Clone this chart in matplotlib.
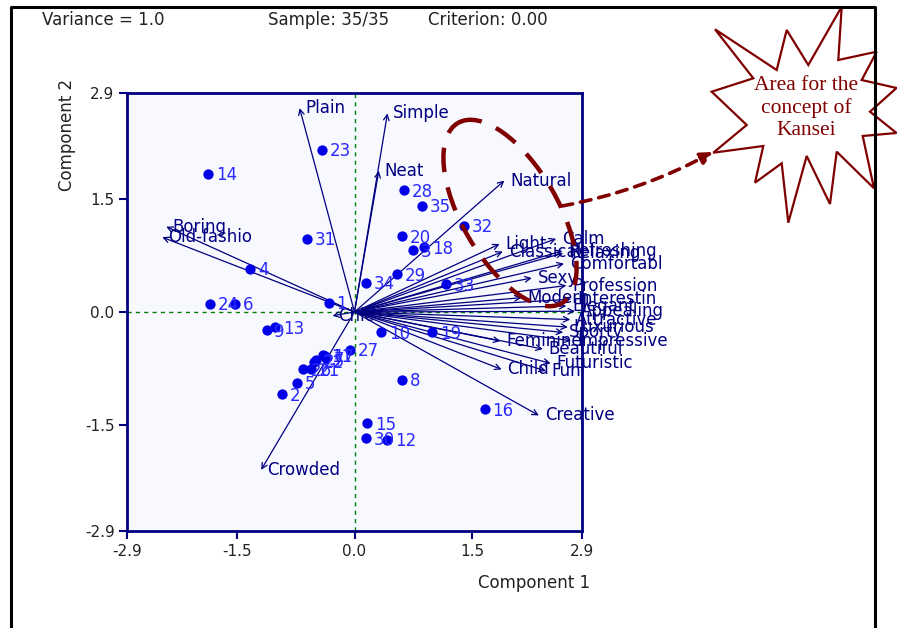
import matplotlib
matplotlib.use("Agg")
import matplotlib.pyplot as plt
from matplotlib.patches import Ellipse, Polygon, FancyArrowPatch

# sample scores on component 1 / 2
sample_ids = ["14", "23", "31", "4", "24", "6", "1", "9", "13", "34", "29", "20",
              "3", "18", "28", "35", "32", "33", "10", "19", "27", "8", "16", "15",
              "30", "12", "2", "5", "26", "21", "22", "25", "11", "17", "7"]
sample_x = [-1.87, -0.42, -0.61, -1.33, -1.84, -1.52, -0.33, -1.12, -1.01, 0.15, 0.54, 0.60,
            0.74, 0.89, 0.625, 0.855, 1.39, 1.16, 0.34, 0.99, -0.06, 0.60, 1.66, 0.165,
            0.15, 0.42, -0.92, -0.73, -0.66, -0.55, -0.51, -0.49, -0.40, -0.37, -0.36]
sample_y = [1.83, 2.15, 0.97, 0.57, 0.11, 0.11, 0.12, -0.24, -0.20, 0.385, 0.50, 1.00,
            0.82, 0.86, 1.61, 1.41, 1.14, 0.37, -0.27, -0.27, -0.50, -0.90, -1.29, -1.47,
            -1.67, -1.69, -1.09, -0.94, -0.76, -0.76, -0.66, -0.64, -0.57, -0.58, -0.61]

# Kansei word loadings
word_names = ["Plain", "Simple", "Neat", "Natural", "Boring", "Old-fashio", "Crowded", "Chic",
              "Light", "Calm", "Classical", "Refreshing", "Relaxing", "Comfortabl", "Sexy",
              "Profession", "Modern", "Interestin", "Elegant", "Appealing", "Attractive",
              "Luxurious", "Sporty", "Impressive", "Feminine", "Beautiful", "Futuristic",
              "Child", "Fun", "Creative"]
word_x = [-0.70, 0.42, 0.31, 1.91, -2.40, -2.45, -1.19, -0.28,
          1.85, 2.57, 1.89, 2.65, 2.66, 2.67, 2.26,
          2.70, 2.13, 2.76, 2.70, 2.81, 2.75,
          2.72, 2.66, 2.76, 1.86, 2.40, 2.50,
          1.875, 2.44, 2.35]
word_y = [2.70, 2.63, 1.87, 1.74, 1.13, 0.99, -2.09, -0.05,
          0.90, 0.97, 0.80, 0.81, 0.78, 0.64, 0.45,
          0.35, 0.19, 0.17, 0.08, 0.01, -0.10,
          -0.20, -0.27, -0.38, -0.385, -0.49, -0.68,
          -0.76, -0.78, -1.37]

ticks = [-2.9, -1.5, 0.0, 1.5, 2.9]
tick_labels = ["-2.9", "-1.5", "0.0", "1.5", "2.9"]

navy = "#000080"
dark_red = "#800000"

fig = plt.figure(figsize=(8.97, 6.28), dpi=100)
fig.patch.set_facecolor("white")

ax = fig.add_axes([127 / 897, 1 - 531 / 628, 455 / 897, 438 / 628])
ax.set_facecolor("#F8F8FF")
ax.set_xlim(-2.9, 2.9)
ax.set_ylim(-2.9, 2.9)
for sp in ax.spines.values():
    sp.set_color(navy)
    sp.set_linewidth(2)
ax.set_xticks(ticks)
ax.set_xticklabels(tick_labels)
ax.set_yticks(ticks)
ax.set_yticklabels(tick_labels)
ax.tick_params(direction="out", length=6, width=1.5, color=navy,
               labelsize=11, labelcolor="#222222", pad=3)

ax.axhline(0, color="green", lw=1, ls=(0, (3, 3)), zorder=1)
ax.axvline(0, color="green", lw=1, ls=(0, (3, 3)), zorder=1)

# vectors
for name, wx, wy in zip(word_names, word_x, word_y):
    ax.annotate("", xy=(wx, wy), xytext=(0, 0),
                arrowprops=dict(arrowstyle="->", color=navy, lw=0.9,
                                mutation_scale=10, shrinkA=0, shrinkB=0),
                zorder=2)
    ax.text(wx + 0.075, wy, name, color=navy, fontsize=12, va="center", ha="left",
            zorder=3)

# samples
ax.scatter(sample_x, sample_y, s=55, color="#0000E6", zorder=4, linewidths=0)
for sid, sx, sy in zip(sample_ids, sample_x, sample_y):
    ax.text(sx + 0.1, sy - 0.02, sid, color="#2A2AFF", fontsize=12, va="center",
            ha="left", zorder=4)

# overlay in pixel coordinates for frame, header and annotation
ov = fig.add_axes([0, 0, 1, 1], zorder=10)
ov.set_xlim(0, 897)
ov.set_ylim(628, 0)
ov.axis("off")
ov.patch.set_alpha(0)

ov.plot([11, 11, 875, 875], [628, 7, 7, 628], color="black", lw=2.2)

ov.text(42, 20, "Variance = 1.0", fontsize=12, va="center", ha="left", color="#222222")
ov.text(268, 20, "Sample: 35/35", fontsize=12, va="center", ha="left", color="#222222")
ov.text(428, 20, "Criterion: 0.00", fontsize=12, va="center", ha="left", color="#222222")
ov.text(67, 135, "Component 2", fontsize=12, rotation=90, va="center", ha="center",
        color="#222222")
ov.text(534, 583, "Component 1", fontsize=12, va="center", ha="center", color="#222222")

ov.add_patch(Ellipse((510, 213), width=96, height=208, angle=-30, fill=False,
                     edgecolor=dark_red, lw=3.2, ls=(0, (5.5, 3.5))))

ov.add_patch(FancyArrowPatch((562, 206), (713, 152), connectionstyle="arc3,rad=0.08",
                             arrowstyle="-|>", mutation_scale=18, color=dark_red,
                             lw=2.6, ls=(0, (3, 2.2)), shrinkA=0, shrinkB=0))

star = [(841.7, 6.7), (838.3, 60), (876.7, 51.7), (861.7, 80), (896.5, 88),
        (870, 111.7), (896.5, 133), (862.7, 136), (874, 188.3), (836.7, 151.7),
        (830, 204), (806.7, 156), (788.3, 222.7), (781.7, 163.3), (755, 182.7),
        (763.3, 146), (713.3, 152.7), (746.7, 125), (711.7, 91.7), (753.3, 78.3),
        (715, 29.3), (776.7, 70), (786.7, 30), (808.3, 65)]
ov.add_patch(Polygon(star, closed=True, fill=False, edgecolor=dark_red, lw=1.6))
ov.text(806, 108, "Area for the\nconcept of\nKansei", fontsize=15.5,
        family="Liberation Serif", color=dark_red, ha="center", va="center",
        linespacing=1.2)

plt.savefig("out.png", dpi=100)
